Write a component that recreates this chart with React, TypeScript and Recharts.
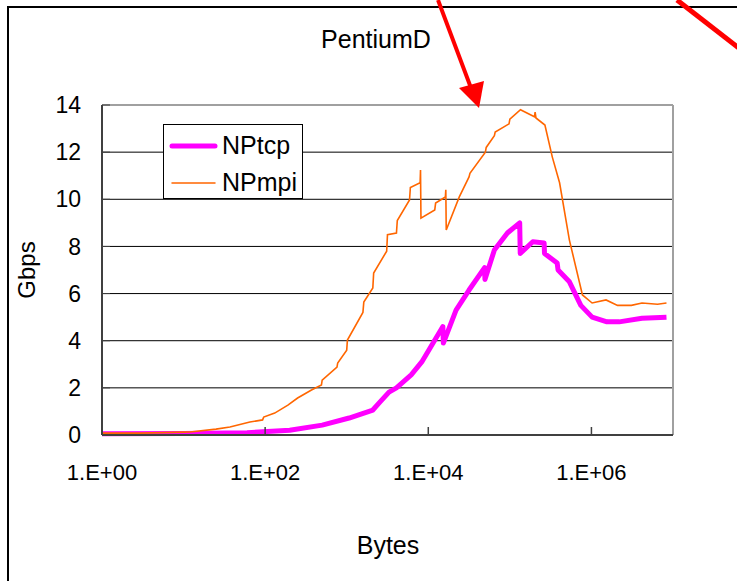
import React from "react"
import { LineChart, Line, XAxis, YAxis, CartesianGrid, Legend, ReferenceLine, Label } from "recharts"

// NetPIPE throughput, PentiumD: message size in bytes vs Gbps
const mpiBytes = [
  1, 3, 10, 12, 25, 37, 65, 93, 96, 131, 190, 250, 370, 490, 500, 760, 775, 1000, 1020, 1580, 1620,
  2090, 2140, 3090, 3160, 4070, 4170, 5890, 6030, 7940, 8030, 8130, 12000, 12300, 16200, 16400, 16600,
  24000, 31600, 32400, 50100, 51300, 64600, 66100, 97700, 100000, 135000, 200000, 204000, 209000,
  269000, 331000, 407000, 537000, 776000, 1020000, 1510000, 2090000, 3090000, 4170000, 6460000, 8320000,
]
const mpiGbps = [
  0.08, 0.08, 0.12, 0.13, 0.25, 0.34, 0.55, 0.64, 0.76, 0.93, 1.27, 1.57, 1.91, 2.12, 2.33, 2.88, 3.05, 3.6, 4.03, 5.2, 5.64,
  6.24, 6.87, 7.8, 8.5, 8.57, 9.1, 9.97, 10.5, 10.7, 11.24, 9.2, 9.55, 9.84, 10.1, 10.4, 8.7,
  10.1, 10.95, 11.1, 12.0, 12.2, 12.7, 12.85, 13.2, 13.4, 13.8, 13.5, 13.7, 13.45,
  13.15, 11.8, 10.7, 8.27, 5.94, 5.6, 5.73, 5.5, 5.5, 5.6, 5.55, 5.6,
]
const tcpBytes = [
  1, 10, 60, 200, 500, 1070, 2090, 2500, 3300, 4070, 6170, 8320, 15100, 15300, 21900, 31600, 49000, 49500,
  64600, 93300, 132000, 134000, 191000, 263000, 266000, 380000, 390000, 537000, 741000, 1020000, 1550000,
  2190000, 4170000, 8320000,
]
const tcpGbps = [
  0.05, 0.06, 0.1, 0.2, 0.42, 0.72, 1.06, 1.36, 1.82, 2.0, 2.55, 3.1, 4.6, 3.9, 5.3, 6.15, 7.1, 6.6,
  7.85, 8.57, 9.0, 7.7, 8.2, 8.15, 7.7, 7.3, 7.0, 6.5, 5.5, 5.0, 4.8,
  4.8, 4.95, 5.0,
]

const xTicks = [1, 100, 10000, 1000000]
const xTickLabels = ["1.E+00", "1.E+02", "1.E+04", "1.E+06"]
const yTicks = [0, 2, 4, 6, 8, 10, 12, 14]
const seriesOrder = ["NPtcp", "NPmpi"]

const tcpData = tcpBytes.map((x, i) => ({ x, y: tcpGbps[i] }))
const mpiData = mpiBytes.map((x, i) => ({ x, y: mpiGbps[i] }))

const font = "'Liberation Sans', Arial, sans-serif"
const legendWidths: Record<string, number> = { NPtcp: 5, NPmpi: 1.5 }

function XTick({ x, y, index }: any) {
  return (
    <g>
      <line x1={x} y1={y} x2={x} y2={y - 8} stroke="#404040" strokeWidth={1.5} />
      <text x={x} y={y + 39} textAnchor="middle" dominantBaseline="middle" fontSize={22} fill="#000" fontFamily={font}>
        {xTickLabels[index]}
      </text>
    </g>
  )
}

function YTick({ x, y, payload }: any) {
  return (
    <g>
      <line x1={x} y1={y} x2={x + 8} y2={y} stroke="#404040" strokeWidth={1} />
      <text x={x - 21} y={y + 2} textAnchor="end" dominantBaseline="middle" fontSize={23} fill="#000" fontFamily={font}>
        {payload.value}
      </text>
    </g>
  )
}

function LegendBox({ payload }: any) {
  const items = [...(payload || [])].sort((a: any, b: any) => seriesOrder.indexOf(a.value) - seriesOrder.indexOf(b.value))
  return (
    <div style={{ border: "1px solid #000", background: "#fff", width: 140, height: 75, boxSizing: "border-box", paddingTop: 2 }}>
      {items.map((entry: any) => (
        <div key={entry.value} style={{ display: "flex", alignItems: "center", height: 37 }}>
          <svg width={58} height={12} style={{ flex: "none" }}>
            <line x1={8} x2={51} y1={6} y2={6} stroke={entry.color} strokeWidth={legendWidths[entry.value]} strokeLinecap="round" />
          </svg>
          <span style={{ fontSize: 25, fontFamily: font, color: "#000", lineHeight: "25px" }}>{entry.value}</span>
        </div>
      ))}
    </div>
  )
}

export default function App() {
  return (
    <div style={{ position: "absolute", left: 0, top: 0, width: 737, height: 581, background: "#fff", overflow: "hidden" }}>
      <LineChart
        width={737}
        height={581}
        margin={{ top: 105, right: 64, bottom: 106, left: 0 }}
        style={{ fontFamily: font }}
      >
        <CartesianGrid vertical={false} stroke="#000" strokeWidth={1} />
        <XAxis
          dataKey="x"
          type="number"
          scale="log"
          domain={[1, 10000000]}
          ticks={xTicks}
          allowDataOverflow
          height={40}
          tickSize={0}
          tickMargin={0}
          tick={<XTick />}
          axisLine={{ stroke: "#404040", strokeWidth: 2 }}
          tickLine={false}
        >
          <Label
            content={() => (
              <text x={388} y={547} textAnchor="middle" dominantBaseline="middle" fontSize={25} fontFamily={font} fill="#000">
                Bytes
              </text>
            )}
          />
        </XAxis>
        <YAxis
          type="number"
          domain={[0, 14]}
          ticks={yTicks}
          width={102}
          tickSize={0}
          tickMargin={0}
          tick={<YTick />}
          axisLine={{ stroke: "#404040", strokeWidth: 2 }}
          tickLine={false}
        >
          <Label
            content={() => (
              <text x={29} y={270} transform="rotate(-90 29 270)" textAnchor="middle" dominantBaseline="middle" fontSize={24} fontFamily={font} fill="#000">
                Gbps
              </text>
            )}
          />
        </YAxis>
        <ReferenceLine y={14} stroke="#a0a0a0" strokeWidth={2} />
        <ReferenceLine x={10000000} stroke="#a0a0a0" strokeWidth={2} />
        <Line
          data={tcpData}
          dataKey="y"
          name="NPtcp"
          type="linear"
          stroke="#ff00ff"
          strokeWidth={5}
          strokeLinejoin="round"
          dot={false}
          isAnimationActive={false}
        />
        <Line
          data={mpiData}
          dataKey="y"
          name="NPmpi"
          type="linear"
          stroke="#ff6600"
          strokeWidth={1.6}
          dot={false}
          isAnimationActive={false}
        />
        <Legend
          layout="vertical"
          align="center"
          verticalAlign="middle"
          content={<LegendBox />}
          wrapperStyle={{ left: 163, top: 124, width: 140, height: 75 }}
        />
      </LineChart>
      <svg width={737} height={581} style={{ position: "absolute", left: 0, top: 0, pointerEvents: "none" }}>
        <polyline points="8,581 8,7 737,7" fill="none" stroke="#000" strokeWidth={2} />
        <text x={376} y={41} textAnchor="middle" dominantBaseline="middle" fontSize={25} fontFamily={font} fill="#000">
          PentiumD
        </text>
        <line x1={438} y1={0} x2={471} y2={88} stroke="#ff0000" strokeWidth={4} />
        <polygon points="479,108 459,88 484,81" fill="#ff0000" />
        <line x1={677} y1={0} x2={740} y2={49} stroke="#ff0000" strokeWidth={5} />
      </svg>
    </div>
  )
}
